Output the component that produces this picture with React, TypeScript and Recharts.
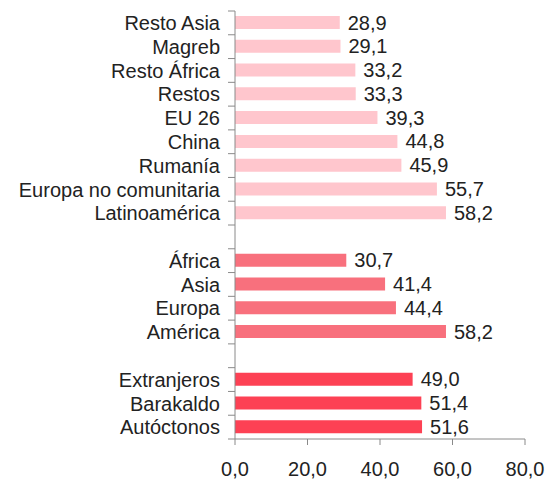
import { BarChart, Bar, XAxis, YAxis, Cell, LabelList } from "recharts";

const categories = [
  "Resto Asia",
  "Magreb",
  "Resto África",
  "Restos",
  "EU 26",
  "China",
  "Rumanía",
  "Europa no comunitaria",
  "Latinoamérica",
  "",
  "África",
  "Asia",
  "Europa",
  "América",
  "",
  "Extranjeros",
  "Barakaldo",
  "Autóctonos",
];
const values: (number | null)[] = [
  28.9, 29.1, 33.2, 33.3, 39.3, 44.8, 45.9, 55.7, 58.2, null, 30.7, 41.4, 44.4,
  58.2, null, 49.0, 51.4, 51.6,
];
// 0 = detalle, 1 = continentes, 2 = totales, -1 = hueco
const groups = [0, 0, 0, 0, 0, 0, 0, 0, 0, -1, 1, 1, 1, 1, -1, 2, 2, 2];
const xTicks = [0, 20, 40, 60, 80];

const groupColors = ["#FFC6CD", "#F8707D", "#FD4154"];

const W = 550;
const H = 481;
const TOP = 11;
const X_AXIS_H = 42;
const FONT = "'Liberation Sans', Arial, sans-serif";

const data = categories.map((c, i) => ({
  id: c === "" ? `_gap${i}` : c,
  value: values[i],
  group: groups[i],
}));

const bandH = (H - TOP - X_AXIS_H) / data.length;
const fmt = (v: any) =>
  v === null || v === undefined ? "" : Number(v).toFixed(1).replace(".", ",");

function CategoryTick(props: any) {
  const { x, y, payload, index } = props;
  const label = String(payload.value).startsWith("_gap") ? "" : payload.value;
  return (
    <g>
      <line x1={x - 7} x2={x} y1={y - bandH / 2} y2={y - bandH / 2} stroke="#8a8a8a" />
      {index === data.length - 1 && (
        <line x1={x - 7} x2={x} y1={y + bandH / 2} y2={y + bandH / 2} stroke="#8a8a8a" />
      )}
      <text
        x={x - 15}
        y={y}
        dy="0.36em"
        textAnchor="end"
        fill="#222"
        fontSize={20}
        fontFamily={FONT}
      >
        {label}
      </text>
    </g>
  );
}

export default function App() {
  return (
    <div style={{ position: "absolute", left: 0, top: 0, background: "#fff" }}>
      <BarChart
        width={W}
        height={H}
        data={data}
        layout="vertical"
        margin={{ top: TOP, right: 25, bottom: 0, left: 0 }}
      >
        <XAxis
          type="number"
          domain={[0, 80]}
          ticks={xTicks}
          tickFormatter={fmt}
          height={X_AXIS_H}
          tickSize={6}
          tickMargin={17}
          stroke="#8a8a8a"
          tick={{ fill: "#222", fontSize: 20, fontFamily: FONT }}
          interval={0}
        />
        <YAxis
          type="category"
          dataKey="id"
          width={235}
          tickSize={0}
          tickMargin={0}
          tickLine={false}
          stroke="#8a8a8a"
          interval={0}
          tick={<CategoryTick />}
        />
        <Bar dataKey="value" barSize={13} isAnimationActive={false}>
          {data.map((d, i) => (
            <Cell key={i} fill={d.group >= 0 ? groupColors[d.group] : "none"} />
          ))}
          <LabelList
            dataKey="value"
            position="right"
            offset={8}
            formatter={fmt}
            fill="#222"
            fontSize={20}
            fontFamily={FONT}
          />
        </Bar>
      </BarChart>
    </div>
  );
}
